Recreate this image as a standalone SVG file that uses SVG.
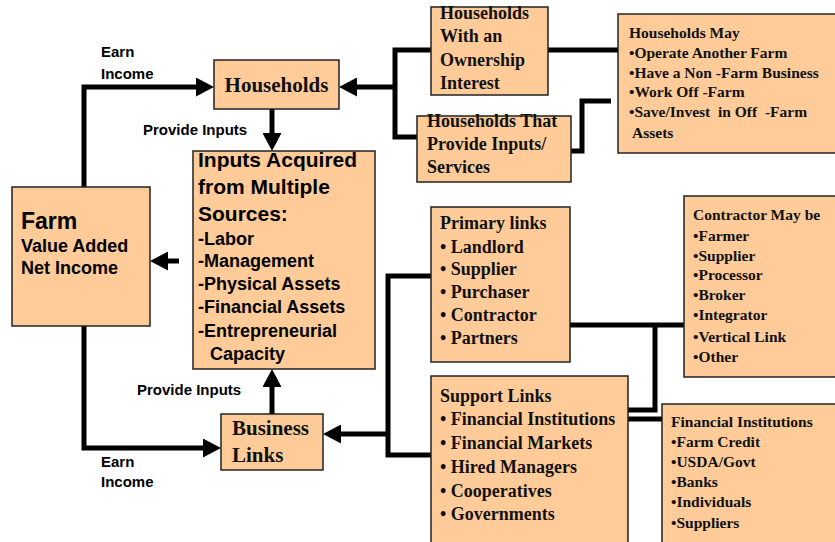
<svg xmlns="http://www.w3.org/2000/svg" width="835" height="542" viewBox="0 0 835 542">
<style>
.box{fill:#FFCC99;stroke:#222;stroke-width:1.5}
.c{fill:none;stroke:#000;stroke-width:5}
.lbl{font-family:"Liberation Sans",Arial,sans-serif;font-weight:bold;font-size:15px;fill:#000}
.ss{font-family:"Liberation Sans",Arial,sans-serif;font-weight:bold;fill:#000}
.t{font-family:"Liberation Serif","Times New Roman",serif;font-weight:bold;fill:#111}
.pre{white-space:pre}
</style>
<defs>
<marker id="ah" markerUnits="userSpaceOnUse" markerWidth="18" markerHeight="19" refX="0" refY="9.5" orient="auto">
<path d="M0,0 L18,9.5 L0,19 z" fill="#000"/>
</marker>
</defs>
<rect width="835" height="542" fill="#fff"/>
<g id="connectors">
<path class="c" d="M84,187 V87 H196" marker-end="url(#ah)"/>
<path class="c" d="M431,50 H395 V137 H417"/>
<path class="c" d="M395,87 H357" marker-end="url(#ah)"/>
<path class="c" d="M548,50 H618"/>
<path class="c" d="M571,151 H582 V101 H611"/>
<path class="c" d="M272,109 V133" marker-end="url(#ah)"/>
<path class="c" d="M179,261 H168" marker-end="url(#ah)"/>
<path class="c" d="M84,326 V448 H203" marker-end="url(#ah)"/>
<path class="c" d="M272,414 V387" marker-end="url(#ah)"/>
<path class="c" d="M431,276 H388 V455 H431"/>
<path class="c" d="M388,434 H341" marker-end="url(#ah)"/>
<path class="c" d="M570,325 H684"/>
<path class="c" d="M655,325 V410 H628"/>
<path class="c" d="M628,419 H662"/>
</g>
<g id="labels">
<text class="lbl" x="101" y="57">Earn</text>
<text class="lbl" x="101" y="79">Income</text>
<text class="lbl" x="143" y="135">Provide Inputs</text>
<text class="lbl" x="137" y="395">Provide Inputs</text>
<text class="lbl" x="101" y="467">Earn</text>
<text class="lbl" x="101" y="487">Income</text>
</g>
<g id="households">
<rect class="box" x="214" y="60" width="125" height="49"/>
<text class="t" x="276.5" y="92" font-size="21" text-anchor="middle">Households</text>
</g>
<g id="inputs">
<rect class="box" x="193" y="151" width="182" height="218"/>
<text class="ss" font-size="21"><tspan x="198" y="167">Inputs Acquired</tspan><tspan x="198" y="194">from Multiple</tspan><tspan x="198" y="221">Sources:</tspan></text>
<text class="ss" font-size="18"><tspan x="198" y="245">-Labor</tspan><tspan x="198" y="267">-Management</tspan><tspan x="198" y="290">-Physical Assets</tspan><tspan x="198" y="313">-Financial Assets</tspan><tspan x="198" y="337">-Entrepreneurial</tspan><tspan x="210" y="360">Capacity</tspan></text>
</g>
<g id="farm">
<rect class="box" x="12" y="187" width="138" height="139"/>
<text class="ss" x="21" y="229" font-size="23">Farm</text>
<text class="ss" font-size="18"><tspan x="21" y="252">Value Added</tspan><tspan x="21" y="274">Net Income</tspan></text>
</g>
<g id="business-links">
<rect class="box" x="221" y="414" width="102" height="56"/>
<text class="t" font-size="21"><tspan x="232" y="435">Business</tspan><tspan x="232" y="462">Links</tspan></text>
</g>
<g id="hh-ownership">
<rect class="box" x="431" y="7" width="117" height="88"/>
<text class="t" font-size="18"><tspan x="440" y="19">Households</tspan><tspan x="440" y="42">With an</tspan><tspan x="440" y="66">Ownership</tspan><tspan x="440" y="89">Interest</tspan></text>
</g>
<g id="hh-inputs">
<rect class="box" x="417" y="116" width="154" height="66"/>
<text class="t" font-size="18"><tspan x="427" y="127">Households That</tspan><tspan x="427" y="150">Provide Inputs/</tspan><tspan x="427" y="173">Services</tspan></text>
</g>
<g id="hh-may">
<rect class="box" x="618" y="14" width="220" height="139"/>
<text class="t pre" font-size="15.5"><tspan x="629" y="38">Households May</tspan><tspan x="629" y="58">•Operate Another Farm</tspan><tspan x="629" y="78">•Have a Non -Farm Business</tspan><tspan x="629" y="97">•Work Off -Farm</tspan><tspan x="629" y="117">•Save/Invest  in Off  -Farm</tspan><tspan x="632" y="138">Assets</tspan></text>
</g>
<g id="primary-links">
<rect class="box" x="431" y="207" width="139" height="155"/>
<text class="t" font-size="18"><tspan x="440" y="229">Primary links</tspan><tspan x="440" y="253">• Landlord</tspan><tspan x="440" y="275">• Supplier</tspan><tspan x="440" y="298">• Purchaser</tspan><tspan x="440" y="321">• Contractor</tspan><tspan x="440" y="344">• Partners</tspan></text>
</g>
<g id="contractor">
<rect class="box" x="684" y="196" width="154" height="181"/>
<text class="t" font-size="15.5"><tspan x="693" y="220">Contractor May be</tspan><tspan x="693" y="241">•Farmer</tspan><tspan x="693" y="261">•Supplier</tspan><tspan x="693" y="280">•Processor</tspan><tspan x="693" y="300">•Broker</tspan><tspan x="693" y="320">•Integrator</tspan><tspan x="693" y="342">•Vertical Link</tspan><tspan x="693" y="362">•Other</tspan></text>
</g>
<g id="support-links">
<rect class="box" x="431" y="376" width="197" height="175"/>
<text class="t" font-size="18"><tspan x="440" y="402">Support Links</tspan><tspan x="440" y="425">• Financial Institutions</tspan><tspan x="440" y="449">• Financial Markets</tspan><tspan x="440" y="473">• Hired Managers</tspan><tspan x="440" y="497">• Cooperatives</tspan><tspan x="440" y="520">• Governments</tspan></text>
</g>
<g id="financial-institutions">
<rect class="box" x="662" y="404" width="176" height="147"/>
<text class="t" font-size="15.5"><tspan x="671" y="427">Financial Institutions</tspan><tspan x="671" y="447">•Farm Credit</tspan><tspan x="671" y="467">•USDA/Govt</tspan><tspan x="671" y="487">•Banks</tspan><tspan x="671" y="507">•Individuals</tspan><tspan x="671" y="528">•Suppliers</tspan></text>
</g>
</svg>
